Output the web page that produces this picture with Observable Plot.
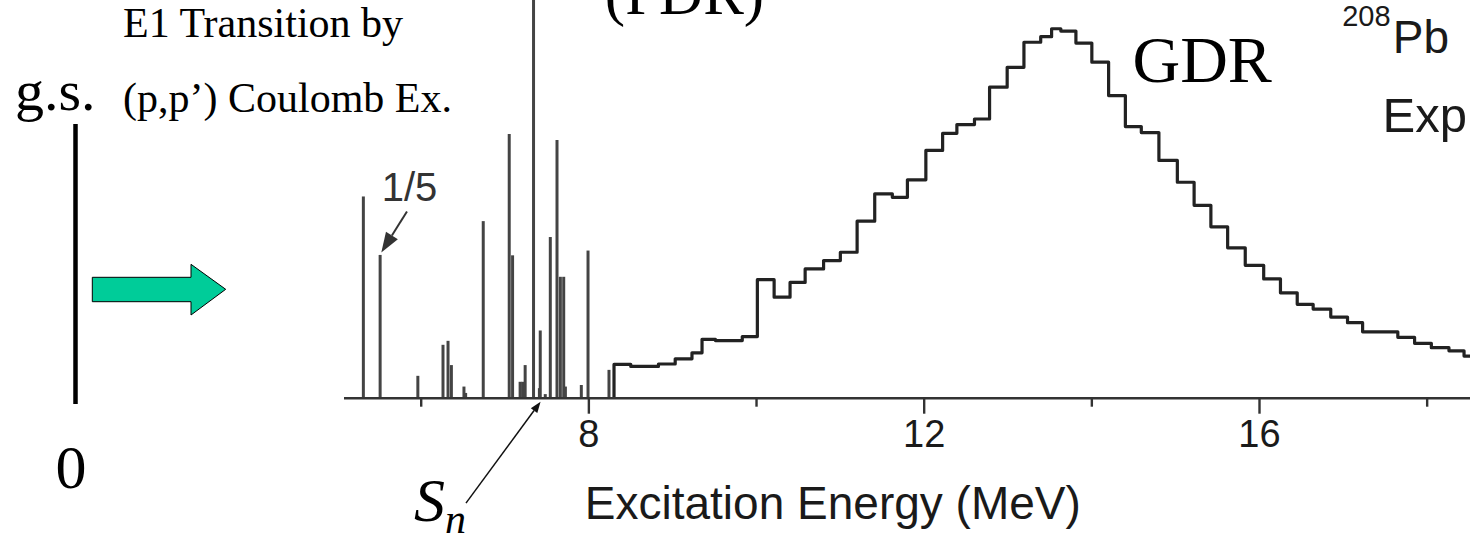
<!DOCTYPE html>
<html>
<head>
<meta charset="utf-8">
<script src="https://cdn.jsdelivr.net/npm/d3@7"></script>
<script src="https://cdn.jsdelivr.net/npm/@observablehq/plot@0.6"></script>
<style>
  html, body { margin: 0; padding: 0; background: #fff; overflow: hidden; }
  #chart { width: 1470px; height: 538px; }
</style>
</head>
<body>
<div id="chart"></div>
<script>
// Discrete E1 transitions of 208Pb below ~8.3 MeV (energy in MeV, strength in arbitrary units)
const lineEnergies  = [5.31, 5.51, 5.96, 6.26, 6.32, 6.36, 6.51, 6.53, 6.74, 7.05, 7.09, 7.18, 7.21,
                       7.24, 7.34, 7.41, 7.42, 7.48, 7.54, 7.62, 7.66, 7.70, 7.72, 7.91, 7.99, 8.24];
const lineStrengths = [50.6, 35.9, 5.5, 13.3, 14.3, 8.2, 2.8, 1.2, 44.4, 66.3, 35.8, 4.0, 4.0,
                       8.2, 105, 2.4, 16.9, 0.9, 40.4, 64.8, 30.4, 30.4, 2.8, 3.2, 37.0, 7.0];

// Continuum (GDR region): histogram bin edges (MeV) and bin contents
const binEdges = [8.30, 8.50, 8.83, 9.03, 9.23, 9.35, 9.51, 9.83, 10.01, 10.21, 10.40, 10.58, 10.80,
                  11.00, 11.20, 11.41, 11.62, 11.80, 12.02, 12.22, 12.39, 12.60, 12.78, 12.99, 13.19,
                  13.39, 13.52, 13.63, 13.81, 14.00, 14.20, 14.40, 14.59, 14.80, 15.02, 15.22, 15.42,
                  15.62, 15.83, 16.05, 16.25, 16.45, 16.64, 16.85, 17.05, 17.23, 17.65, 17.85, 18.05,
                  18.26, 18.44, 18.64];
const binValues = [8.5, 8.0, 8.6, 9.9, 11.4, 14.8, 14.5, 15.5, 29.8, 25.4, 29.1, 32.5, 34.6, 36.7,
                   44.5, 51.4, 50.5, 54.9, 62.3, 66.6, 68.8, 70.2, 78.2, 83.2, 89.5, 90.9, 92.9, 92.3,
                   89.3, 84.5, 76.1, 68.3, 66.8, 59.8, 54.3, 48.5, 43.1, 37.8, 33.4, 30.0, 26.5, 23.6,
                   22.4, 20.4, 19.0, 16.7, 15.3, 13.8, 12.7, 11.9, 10.6];

// Axis ticks and labels
const majorTicks = [8, 12, 16];
const minorTicks = [6, 10, 14, 18];
const xLabel = "Excitation Energy (MeV)";

// Neutron separation energy marker (MeV)
const snEnergy = 7.43;

const lines = lineEnergies.map((e, i) => ({energy: e, strength: lineStrengths[i]}));
const steps = [{energy: binEdges[0], value: 0}]
  .concat(binValues.map((v, i) => ({energy: binEdges[i], value: v})))
  .concat([{energy: binEdges[binEdges.length - 1], value: binValues[binValues.length - 1]}]);

const SANS = "Arial, 'Liberation Sans', Helvetica, sans-serif";
const SERIF = "'Times New Roman', 'Liberation Serif', serif";

const plot = Plot.plot({
  width: 1470,
  height: 538,
  marginLeft: 344,
  marginRight: 0,
  marginTop: 0,
  marginBottom: 140.3,
  style: {fontFamily: SANS, background: "#fff", color: "#1a1a1a", overflow: "hidden"},
  x: {domain: [5.085, 18.517]},
  y: {domain: [0, 100], axis: null},
  marks: [
    // discrete transitions
    Plot.ruleX(lines, {x: "energy", y1: 0, y2: "strength", stroke: "#444", strokeWidth: 3}),
    // continuum histogram
    Plot.line(steps, {x: "energy", y: "value", curve: "step-after", stroke: "#222", strokeWidth: 3.2, clip: true}),
    // baseline
    Plot.ruleY([0], {stroke: "#333", strokeWidth: 2.6}),
    Plot.axisX({ticks: majorTicks, tickSize: 16, tickPadding: 6, fontSize: 38, label: null,
                stroke: "#333", strokeWidth: 2.4}),
    Plot.axisX({ticks: minorTicks, tickSize: 9, tickFormat: () => "", label: null,
                stroke: "#333", strokeWidth: 2.4}),
    Plot.text([xLabel], {x: 10.91, y: -30.5, fontSize: 46, lineAnchor: "bottom", textAnchor: "middle", fill: "#1a1a1a"}),
    // annotations
    Plot.text(["1/5"], {x: 5.86, y: 49.7, fontSize: 40, lineAnchor: "bottom", textAnchor: "middle", fill: "#333"}),
    Plot.text(["GDR"], {x: 14.485, y: 79.5, fontSize: 66, lineAnchor: "bottom", textAnchor: "start", fontFamily: SERIF, fill: "#000"}),
    Plot.text(["(PDR)"], {x: 9.141, y: 96.6, fontSize: 61, lineAnchor: "bottom", textAnchor: "middle", fontFamily: SERIF, fill: "#000"}),
    Plot.text(["Exp"], {x: 17.467, y: 66.9, fontSize: 49, lineAnchor: "bottom", textAnchor: "start", fill: "#1a1a1a"}),
    Plot.text(["Pb"], {x: 17.59, y: 86.7, fontSize: 46, lineAnchor: "bottom", textAnchor: "start", fill: "#1a1a1a"}),
    Plot.text(["208"], {x: 17.563, y: 93.7, fontSize: 29, lineAnchor: "bottom", textAnchor: "end", fill: "#1a1a1a"})
  ]
});

document.getElementById("chart").appendChild(plot);

// Overlay: arrows and the level-scheme sketch on the left
const svg = d3.select(plot);
const xs = plot.scale("x"), ys = plot.scale("y");
const X = v => xs.apply(v), Y = v => ys.apply(v);

function arrow(g, x1, y1, x2, y2, headLen, headHalf, color, width) {
  const dx = x2 - x1, dy = y2 - y1, L = Math.hypot(dx, dy);
  const ux = dx / L, uy = dy / L;
  const bx = x2 - ux * headLen, by = y2 - uy * headLen;
  g.append("line").attr("x1", x1).attr("y1", y1).attr("x2", bx).attr("y2", by)
    .attr("stroke", color).attr("stroke-width", width);
  g.append("path")
    .attr("d", `M${x2},${y2}L${bx - uy * headHalf},${by + ux * headHalf}L${bx + uy * headHalf},${by - ux * headHalf}Z`)
    .attr("fill", color);
}

const ann = svg.append("g").attr("text-anchor", "start");
// "1/5" pointer to the scaled-down 5.51 MeV line
arrow(ann, X(5.836), Y(46.8), X(5.53), Y(36.5), 20, 7, "#333", 2);
// S_n pointer
arrow(ann, X(6.54), Y(-26.5), X(snEnergy), Y(-1.0), 11, 4, "#111", 1.5);
ann.append("text")
  .attr("x", X(5.92)).attr("y", Y(-31.0))
  .attr("font-family", SERIF).attr("font-style", "italic").attr("font-size", 62).attr("fill", "#000")
  .text("S")
  .append("tspan").attr("font-size", 42).attr("dy", 12).text("n");

// Level-scheme sketch: ground state, excitation arrow, reaction text
const sk = svg.append("g").attr("font-family", SERIF).attr("fill", "#000").attr("text-anchor", "start");
sk.append("text").attr("x", 15).attr("y", 110).attr("font-size", 58).text("g.s.");
sk.append("line").attr("x1", 75.5).attr("x2", 75.5).attr("y1", 124).attr("y2", 404)
  .attr("stroke", "#000").attr("stroke-width", 4.5);
sk.append("text").attr("x", 71).attr("y", 488).attr("font-size", 62).attr("text-anchor", "middle").text("0");
sk.append("path")
  .attr("d", "M92.3,277.3L191,277.3L191,264.3L225.7,289.3L191,315L191,301.7L92.3,301.7Z")
  .attr("fill", "#00CC99").attr("stroke", "#000").attr("stroke-width", 1);
sk.append("text").attr("x", 123).attr("y", 37.3).attr("font-size", 42).text("E1 Transition by");
sk.append("text").attr("x", 123).attr("y", 111.7).attr("font-size", 42).text("(p,p\u2019) Coulomb Ex.");
</script>
</body>
</html>
